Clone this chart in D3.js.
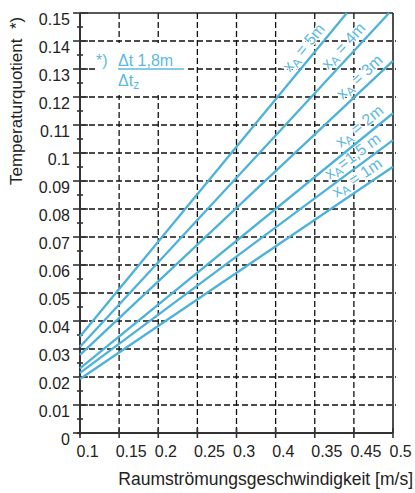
<!DOCTYPE html>
<html>
<head>
<meta charset="utf-8">
<script src="https://cdn.jsdelivr.net/npm/d3@7"></script>
<style>
  body { margin: 0; background: #fff; }
  text { font-family: "Liberation Sans", Arial, sans-serif; }
  text.lbl { white-space: pre; }
</style>
</head>
<body>
<svg id="chart"></svg>
<script>
// x axis: tick positions and the labels as printed (order as in the original)
var xTicks = [0.1, 0.15, 0.2, 0.25, 0.3, 0.35, 0.4, 0.45, 0.5];
var xTickLabels = ["0.1", "0.15", "0.2", "0.25", "0.3", "0.4", "0.35", "0.45", "0.5"];
var yTicks = [0, 0.01, 0.02, 0.03, 0.04, 0.05, 0.06, 0.07, 0.08, 0.09, 0.1, 0.11, 0.12, 0.13, 0.14, 0.15];
var yTickLabels = ["0", "0.01", "0.02", "0.03", "0.04", "0.05", "0.06", "0.07", "0.08", "0.09", "0.1", "0.11", "0.12", "0.13", "0.14", "0.15"];

// one line per distance x_A
var seriesNames = ["5m", "4m", "3m", "2m", "1,5 m", "1m"];
var seriesLabels = [" = 5m", " = 4m", " = 3m", " = 2m", "=1,5 m", " = 1m"];
var startX = [0.1, 0.1, 0.1, 0.1, 0.1, 0.1];
var startY = [0.0345, 0.0308, 0.0279, 0.0231, 0.0215, 0.0193];
var endX = [0.441, 0.495, 0.5, 0.5, 0.5, 0.5];
var endY = [0.15, 0.15, 0.1329, 0.1142, 0.1046, 0.0951];

// where along each line its label sits (x value)
var labelAt = [0.397, 0.447, 0.467, 0.466, 0.457, 0.462];

var width = 415, height = 493;
var blue = "#4cb2d9";
var textBlue = "#5cb9de";

var svg = d3.select("#chart")
    .attr("width", width)
    .attr("height", height);

var x = d3.scaleLinear().domain([0.1, 0.5]).range([80, 393]);
var y = d3.scaleLinear().domain([0, 0.15]).range([433, 13]);

// grid
var grid = svg.append("g").attr("class", "grid");
grid.selectAll("line.h")
    .data(yTicks.slice(1, -1))
    .enter().append("line")
    .attr("class", "h")
    .attr("x1", x(0.1)).attr("x2", x(0.5) + 3)
    .attr("y1", function(d) { return y(d); })
    .attr("y2", function(d) { return y(d); })
    .attr("stroke", "#111").attr("stroke-width", 1.3)
    .attr("stroke-dasharray", "6,3");
grid.selectAll("line.v")
    .data(xTicks.slice(1, -1))
    .enter().append("line")
    .attr("class", "v")
    .attr("x1", function(d) { return x(d); })
    .attr("x2", function(d) { return x(d); })
    .attr("y1", y(0.15)).attr("y2", y(0))
    .attr("stroke", "#111").attr("stroke-width", 1.3)
    .attr("stroke-dasharray", "6,3");

// frame: top and right
svg.append("line")
    .attr("x1", x(0.1)).attr("x2", x(0.5))
    .attr("y1", y(0.15)).attr("y2", y(0.15))
    .attr("stroke", "#222").attr("stroke-width", 1.6);
svg.append("line")
    .attr("x1", x(0.5)).attr("x2", x(0.5))
    .attr("y1", y(0.15)).attr("y2", y(0))
    .attr("stroke", "#222").attr("stroke-width", 1.6);

// y axis
var yAxis = d3.axisLeft(y)
    .tickValues(yTicks)
    .tickSize(0)
    .tickFormat(function(d, i) { return yTickLabels[i]; });
var gy = svg.append("g")
    .attr("transform", "translate(" + x(0.1) + ",0)")
    .call(yAxis);
gy.select(".domain").remove();
gy.selectAll("text")
    .attr("x", -10)
    .attr("dy", "0.72em")
    .attr("font-size", 16)
    .attr("fill", "#222")
    .attr("font-family", "Liberation Sans, Arial, sans-serif");
gy.append("line")
    .attr("x1", 0).attr("x2", 0)
    .attr("y1", y(0.15)).attr("y2", y(0) + 2)
    .attr("stroke", "#333").attr("stroke-width", 2);
gy.selectAll("line.major")
    .data(yTicks)
    .enter().append("line")
    .attr("class", "major")
    .attr("x1", -7).attr("x2", 8)
    .attr("y1", function(d) { return y(d); })
    .attr("y2", function(d) { return y(d); })
    .attr("stroke", "#333").attr("stroke-width", 1.6);
gy.selectAll("line.minor")
    .data(yTicks.slice(0, -1))
    .enter().append("line")
    .attr("class", "minor")
    .attr("x1", -3).attr("x2", 3)
    .attr("y1", function(d) { return y(d + 0.005); })
    .attr("y2", function(d) { return y(d + 0.005); })
    .attr("stroke", "#333").attr("stroke-width", 1.6);

// x axis
var xAxis = d3.axisBottom(x)
    .tickValues(xTicks)
    .tickSize(0)
    .tickFormat(function(d, i) { return xTickLabels[i]; });
var gx = svg.append("g")
    .attr("transform", "translate(0," + y(0) + ")")
    .call(xAxis);
gx.select(".domain").remove();
gx.selectAll("text")
    .attr("text-anchor", "start")
    .attr("x", -4)
    .attr("y", 24)
    .attr("dy", 0)
    .attr("font-size", 16)
    .attr("fill", "#222")
    .attr("font-family", "Liberation Sans, Arial, sans-serif");
gx.append("line")
    .attr("x1", x(0.1) - 3).attr("x2", x(0.5))
    .attr("y1", 0).attr("y2", 0)
    .attr("stroke", "#333").attr("stroke-width", 2);
gx.selectAll("line.major")
    .data(xTicks)
    .enter().append("line")
    .attr("class", "major")
    .attr("x1", function(d) { return x(d); })
    .attr("x2", function(d) { return x(d); })
    .attr("y1", -5).attr("y2", 5)
    .attr("stroke", "#333").attr("stroke-width", 1.6);

// axis titles
svg.append("text")
    .attr("x", 413).attr("y", 485)
    .attr("text-anchor", "end")
    .attr("font-size", 17.5)
    .attr("fill", "#222")
    .text("Raumströmungsgeschwindigkeit [m/s]");
svg.append("text")
    .attr("transform", "translate(22,185) rotate(-90)")
    .attr("text-anchor", "start")
    .attr("font-size", 17)
    .attr("fill", "#222")
    .attr("xml:space", "preserve")
    .text("Temperaturquotient  *)");

var series = seriesNames.map(function(n, i) {
    return { name: n, label: seriesLabels[i], at: labelAt[i],
             values: [[startX[i], startY[i]], [endX[i], endY[i]]] };
});

// line labels, rotated along the line (white halo hides the grid behind)
var labels = svg.selectAll("text.lbl")
    .data(series)
    .enter().append("text")
    .attr("class", "lbl")
    .attr("font-size", 16)
    .attr("fill", textBlue)
    .attr("stroke", "#fff")
    .attr("stroke-width", 2.5)
    .attr("paint-order", "stroke")
    .attr("text-anchor", "middle")
    .attr("transform", function(d) {
        var p0 = d.values[0], p1 = d.values[1];
        var dx = x(p1[0]) - x(p0[0]), dy = y(p1[1]) - y(p0[1]);
        var ang = Math.atan2(dy, dx) * 180 / Math.PI;
        var t = (d.at - p0[0]) / (p1[0] - p0[0]);
        var px = x(p0[0]) + t * dx, py = y(p0[1]) + t * dy;
        return "translate(" + px + "," + py + ") rotate(" + ang + ")";
    })
    .attr("y", -6);
labels.append("tspan").text("x");
labels.append("tspan").attr("font-size", 12).attr("dy", 3).text("A");
labels.append("tspan").attr("dy", -3).text(function(d) { return d.label; });

// lines
var line = d3.line()
    .x(function(d) { return x(d[0]); })
    .y(function(d) { return y(d[1]); });
svg.selectAll("path.series")
    .data(series)
    .enter().append("path")
    .attr("class", "series")
    .attr("d", function(d) { return line(d.values); })
    .attr("fill", "none")
    .attr("stroke", blue)
    .attr("stroke-width", 2.3);

// footnote fraction on a white patch
var note = svg.append("g").attr("fill", textBlue).attr("font-size", 16);
note.append("rect")
    .attr("x", 96).attr("y", 43).attr("width", 92).attr("height", 52)
    .attr("fill", "#fff");
note.append("text").attr("x", 96).attr("y", 66).text("*)");
note.append("text").attr("x", 118).attr("y", 66).text("Δt 1,8m");
note.append("line")
    .attr("x1", 118).attr("x2", 184)
    .attr("y1", 69).attr("y2", 69)
    .attr("stroke", textBlue).attr("stroke-width", 1.3);
var den = note.append("text").attr("x", 118).attr("y", 86);
den.append("tspan").text("Δt");
den.append("tspan").attr("font-size", 12).attr("dy", 3).text("z");
</script>
</body>
</html>
